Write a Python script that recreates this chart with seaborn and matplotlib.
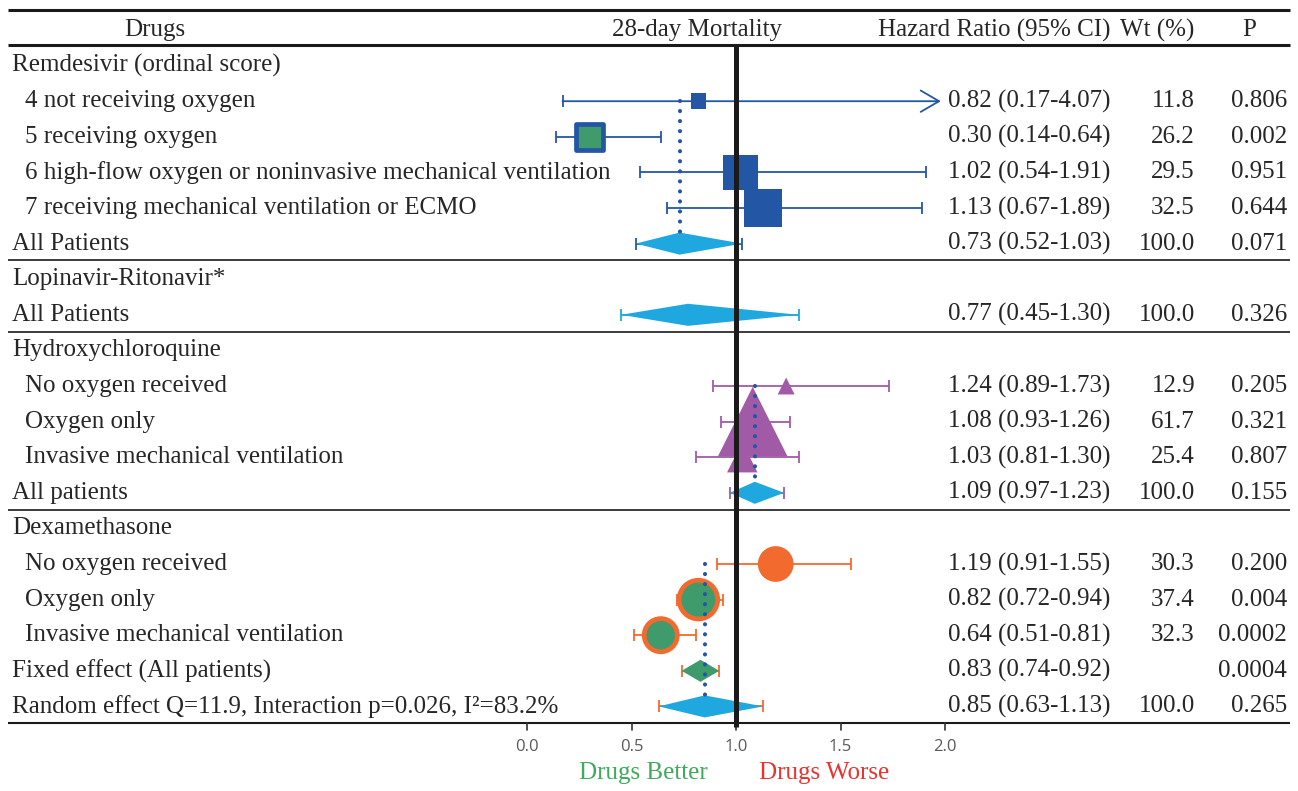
import numpy as np
import pandas as pd
import matplotlib.pyplot as plt
import seaborn as sns

# table rows (header row excluded)
row_labels = ['Remdesivir (ordinal score)', '4 not receiving oxygen', '5 receiving oxygen',
              '6 high-flow oxygen or noninvasive mechanical ventilation',
              '7 receiving mechanical ventilation or ECMO', 'All Patients',
              'Lopinavir-Ritonavir*', 'All Patients',
              'Hydroxychloroquine', 'No oxygen received', 'Oxygen only',
              'Invasive mechanical ventilation', 'All patients',
              'Dexamethasone', 'No oxygen received', 'Oxygen only',
              'Invasive mechanical ventilation', 'Fixed effect (All patients)',
              'Random effect Q=11.9, Interaction p=0.026, I²=83.2%']
row_kind = ['drug', 'sub', 'sub', 'sub', 'sub', 'pool',
            'drug', 'pool',
            'drug', 'sub', 'sub', 'sub', 'pool',
            'drug', 'sub', 'sub', 'sub', 'pool', 'pool']
row_drug = ['Remdesivir'] * 6 + ['Lopinavir'] * 2 + ['Hydroxychloroquine'] * 5 + ['Dexamethasone'] * 6
hr = [np.nan, 0.82, 0.30, 1.02, 1.13, 0.73,
      np.nan, 0.77,
      np.nan, 1.24, 1.08, 1.03, 1.09,
      np.nan, 1.19, 0.82, 0.64, 0.83, 0.85]
ci_lo = [np.nan, 0.17, 0.14, 0.54, 0.67, 0.52,
         np.nan, 0.45,
         np.nan, 0.89, 0.93, 0.81, 0.97,
         np.nan, 0.91, 0.72, 0.51, 0.74, 0.63]
ci_hi = [np.nan, 4.07, 0.64, 1.91, 1.89, 1.03,
         np.nan, 1.30,
         np.nan, 1.73, 1.26, 1.30, 1.23,
         np.nan, 1.55, 0.94, 0.81, 0.92, 1.13]
wt = ['', '11.8', '26.2', '29.5', '32.5', '100.0',
      '', '100.0',
      '', '12.9', '61.7', '25.4', '100.0',
      '', '30.3', '37.4', '32.3', '', '100.0']
p_val = ['', '0.806', '0.002', '0.951', '0.644', '0.071',
         '', '0.326',
         '', '0.205', '0.321', '0.807', '0.155',
         '', '0.200', '0.004', '0.0002', '0.0004', '0.265']
x_ticks = [0.0, 0.5, 1.0, 1.5, 2.0]

drug_color = {'Remdesivir': '#2456A6', 'Lopinavir': '#1FA8DF',
              'Hydroxychloroquine': '#A15BA6', 'Dexamethasone': '#F26A2D'}
drug_marker = {'Remdesivir': 's', 'Hydroxychloroquine': '^', 'Dexamethasone': 'o'}
green = '#3F9A6C'
light_blue = '#1FA8DF'
dot_blue = '#2456A6'

df = pd.DataFrame({'label': row_labels, 'kind': row_kind, 'drug': row_drug,
                   'hr': hr, 'lo': ci_lo, 'hi': ci_hi, 'wt': wt, 'p': p_val})
df['y'] = np.arange(1, len(df) + 1)
df['wt_num'] = pd.to_numeric(df['wt'], errors='coerce')
df['p_num'] = pd.to_numeric(df['p'], errors='coerce')
df['fill'] = np.where(df['p_num'] < 0.05, 'sig', 'ns')

sns.set_theme(style='white')
plt.rcParams['font.family'] = ['Liberation Serif', 'DejaVu Serif']

fig = plt.figure(figsize=(12.98, 7.91), dpi=100)
ax = fig.add_axes([0, 0, 1, 1])
ax.axis('off')


def px(p):
    # pixel column -> hazard ratio axis
    return (p - 527) / 209


def py(p):
    # pixel row -> table row
    return (p - 30) / 35.6


ax.set_xlim(px(0), px(1298))
ax.set_ylim(py(791), py(0))
xmax_show = 1.98
fs = 18
va = 'center'

# rules of the table
ax.hlines(py(10), px(8), px(1290), color='#1a1a1a', lw=2.2)
ax.hlines(py(45), px(8), px(1290), color='#1a1a1a', lw=2.2)
for yy in [6.47, 8.47, 13.47]:
    ax.hlines(yy, px(8), px(1290), color='#1a1a1a', lw=1.2)
ax.hlines(py(723), px(8), px(1290), color='#1a1a1a', lw=1.5)

# header
ax.text(px(155), 0, 'Drugs', ha='center', va=va, fontsize=fs)
ax.text(px(697), 0, '28-day Mortality', ha='center', va=va, fontsize=fs)
ax.text(px(1110), 0, 'Hazard Ratio (95% CI)', ha='right', va=va, fontsize=fs)
ax.text(px(1194), 0, 'Wt (%)', ha='right', va=va, fontsize=fs)
ax.text(px(1249), 0, 'P', ha='center', va=va, fontsize=fs)

# row texts
for _, r in df.iterrows():
    xl = px(25) if r['kind'] == 'sub' else px(12)
    ax.text(xl, r['y'], r['label'], ha='left', va=va, fontsize=fs)
    if not np.isnan(r['hr']):
        ax.text(px(1110), r['y'], f"{r['hr']:.2f} ({r['lo']:.2f}-{r['hi']:.2f})",
                ha='right', va=va, fontsize=fs)
    ax.text(px(1195), r['y'], r['wt'], ha='right', va=va, fontsize=fs)
    ax.text(px(1287), r['y'], r['p'], ha='right', va=va, fontsize=fs)

# confidence intervals
est = df.dropna(subset=['hr'])
for _, r in est.iterrows():
    c = drug_color[r['drug']]
    if r['hi'] > xmax_show:
        ax.annotate('', xy=(xmax_show, r['y']), xytext=(r['lo'], r['y']),
                    arrowprops=dict(arrowstyle='->,head_length=0.6,head_width=0.35',
                                    color=c, lw=1.3, mutation_scale=22,
                                    shrinkA=0, shrinkB=0), zorder=2)
        ax.plot([r['lo']], [r['y']], marker='|', ms=9, mew=1.3, color=c, zorder=2)
    else:
        ax.errorbar(r['hr'], r['y'], xerr=[[r['hr'] - r['lo']], [r['hi'] - r['hr']]],
                    fmt='none', ecolor=c, elinewidth=1.3, capsize=4.5, capthick=1.3, zorder=2)

# subgroup markers, size follows weight
sub = df[df['kind'] == 'sub']
for drug, marker in drug_marker.items():
    d = sub[sub['drug'] == drug]
    edge_w = np.where(d['fill'] == 'sig', 3.4, 0.0)
    side = (d['wt_num'].to_numpy() * 1.08 + 3) * 0.72 - edge_w
    sns.scatterplot(data=d, x='hr', y='y', hue='fill', marker=marker,
                    palette={'sig': green, 'ns': drug_color[drug]},
                    s=side ** 2, edgecolor=drug_color[drug], linewidth=edge_w,
                    legend=False, ax=ax, zorder=3)

# pooled diamonds
half_h = 0.31
pool = df[df['kind'] == 'pool']
for _, r in pool.iterrows():
    c = green if r['p_num'] < 0.05 else light_blue
    ax.fill([r['lo'], r['hr'], r['hi'], r['hr']],
            [r['y'], r['y'] - half_h, r['y'], r['y'] + half_h],
            color=c, lw=0, zorder=3)

# dotted lines at the pooled estimate
for drug in ['Remdesivir', 'Hydroxychloroquine', 'Dexamethasone']:
    d = df[df['drug'] == drug]
    first = d[d['kind'] == 'sub']['y'].min()
    last = d[d['kind'] == 'pool'].iloc[-1]
    ax.plot([last['hr'], last['hr']], [first, last['y'] - 0.3], color=dot_blue,
            lw=3, linestyle=(0, (0.01, 2.4)), dash_capstyle='round', zorder=4)

# line of no effect
ax.vlines(1.0, py(45), py(727), color='#1a1a1a', lw=3.6, zorder=5)

# x axis ticks
for t in x_ticks:
    ax.plot([t, t], [py(723), py(730)], color='#333333', lw=1.2)
    ax.text(t, py(747), f'{t:.1f}', ha='center', va='center', fontsize=12,
            color='#595959', family=['Open Sans', 'DejaVu Sans'])

ax.text(px(643), py(773), 'Drugs Better', ha='center', va='center', fontsize=fs,
        color='#3DAA5C')
ax.text(px(824), py(773), 'Drugs Worse', ha='center', va='center', fontsize=fs,
        color='#E8332F')

fig.savefig('out.png', dpi=100)
